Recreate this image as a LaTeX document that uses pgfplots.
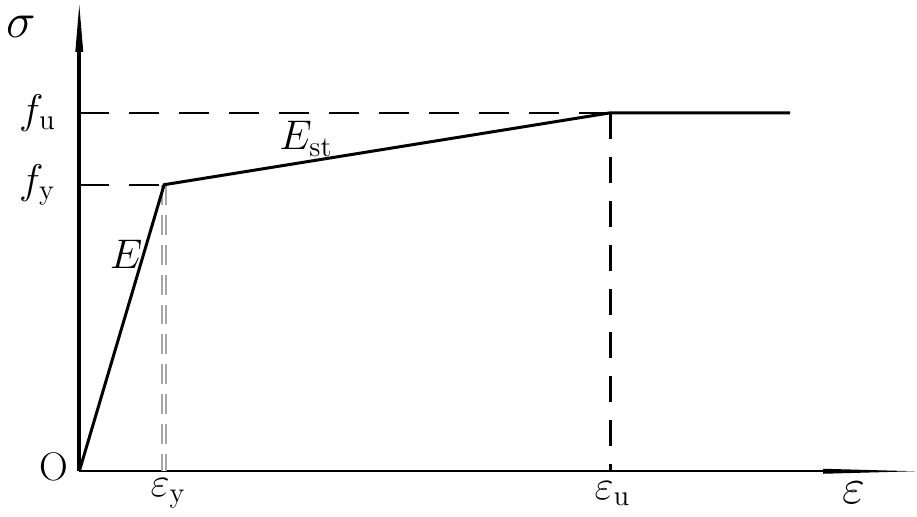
\documentclass[border=0pt]{standalone}
\usepackage{pgfplots}
\pgfplotsset{compat=1.18}
\begin{document}
\begin{tikzpicture}
\begin{axis}[
  x=0.5pt, y=0.5pt,
  xmin=-78, xmax=839, ymin=-45, ymax=472,
  hide axis, clip=false,
  scale only axis,
]
\path (axis cs:-78,-45) rectangle (axis cs:839,472);
% axes
\addplot[black, line width=1pt] coordinates {(0,0) (760,0)};
\addplot[black, line width=2pt] coordinates {(0,0) (0,420)};
\fill[black] (axis cs:745,-2.5) -- (axis cs:837,0) -- (axis cs:745,2.5) -- cycle;
\fill[black] (axis cs:-4,420) -- (axis cs:0,467) -- (axis cs:4,420) -- cycle;
% dashed guide lines
\addplot[black, line width=1.2pt, dash pattern=on 15pt off 10pt] coordinates {(0,359) (532,359)};
\addplot[black, line width=1.2pt, dash pattern=on 15pt off 10pt] coordinates {(0,287) (85,287)};
\addplot[black, line width=1.5pt, dash pattern=on 13pt off 9pt] coordinates {(532,359) (532,0)};
\addplot[gray!70, line width=3pt, dash pattern=on 10pt off 5pt] coordinates {(85,287) (85,0)};
\addplot[white, line width=0.8pt, dash pattern=on 10pt off 5pt] coordinates {(85,287) (85,0)};
% curve
\addplot[black, line width=1.5pt] coordinates {(0,0) (85,287) (532,359) (712,359)};
% labels
\node[font=\fontsize{24}{26}\selectfont] at (axis cs:-58,445) {$\sigma$};
\node[font=\fontsize{22}{24}\selectfont] at (axis cs:-42,359) {$f_{\mathrm{u}}$};
\node[font=\fontsize{22}{24}\selectfont] at (axis cs:-42,287) {$f_{\mathrm{y}}$};
\node[font=\fontsize{20}{22}\selectfont] at (axis cs:-25,4) {O};
\node[font=\fontsize{20}{22}\selectfont] at (axis cs:47,217) {$E$};
\node[font=\fontsize{20}{22}\selectfont] at (axis cs:227,333) {$E_{\mathrm{st}}$};
\node[font=\fontsize{22}{24}\selectfont] at (axis cs:89,-22) {$\varepsilon_{\mathrm{y}}$};
\node[font=\fontsize{22}{24}\selectfont] at (axis cs:534,-22) {$\varepsilon_{\mathrm{u}}$};
\node[font=\fontsize{24}{26}\selectfont] at (axis cs:776,-22) {$\varepsilon$};
\end{axis}
\end{tikzpicture}
\end{document}
